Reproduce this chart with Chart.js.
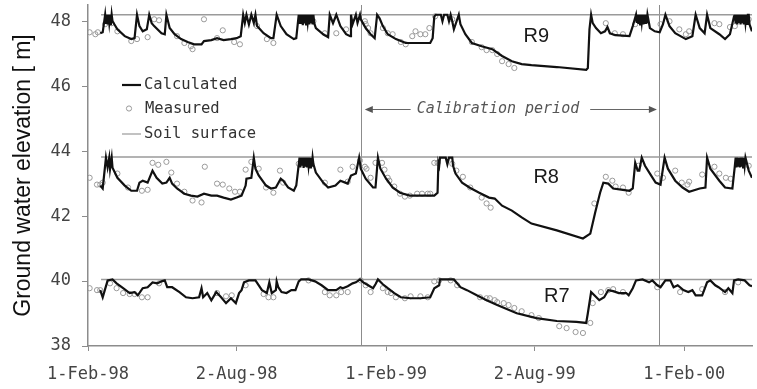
<!DOCTYPE html>
<html lang="en">
<head>
<meta charset="UTF-8">
<title>Ground water elevation R7 R8 R9</title>
<style>
  body { margin: 0; background: #fff; }
  #chart { display: block; }
</style>
</head>
<body>
<canvas id="chart" width="757" height="389"></canvas>
<script src="https://cdn.jsdelivr.net/npm/chart.js"></script>
<script>
// x values are days counted from 1-Feb-98
const tickDays = [0, 182, 365, 547, 730];
const tickLabels = ['1-Feb-98', '2-Aug-98', '1-Feb-99', '2-Aug-99', '1-Feb-00'];
const elevTicks = [38, 40, 42, 44, 46, 48];
const calibration = [334, 699];           // 1-Jan-99 .. 1-Jan-00
const wells = ['R9', 'R8', 'R7'];
const soilSurface = [48.2, 43.82, 40.05];
const soilFrom = 16, lastDay = 813;

// R9
const r9CalcDays = [15,18,21,22,23,24,25,26,27,28,29,30,36,45,
  53,57,60,63,67,72,75,78,81,90,
  94,96,100,106,114,122,130,139,142,151,
  158,166,175,182,187,190,192,194,197,200,
  203,205,207,215,224,227,231,236,243,252,
  255,258,259,260,261,262,263,264,265,266,
  267,268,269,270,271,272,273,274,275,276,
  277,279,288,294,296,300,304,309,316,321,
  322,324,328,330,333,334,340,346,351,354,
  357,361,367,377,389,401,419,422,424,426,
  432,434,436,440,442,444,446,448,454,456,
  462,470,482,495,507,519,531,543,574,610,
  612,614,616,618,622,628,633,636,639,646,
  663,667,671,672,673,674,675,676,677,678,
  679,680,681,682,683,684,685,688,694,700,
  704,707,712,719,732,740,744,749,755,758,
  762,773,780,786,791,792,793,794,795,796,
  797,798,799,800,801,802,803,804,805,806,
  807,808,809,810,813];
const r9CalcVals = [47.63,47.66,48.2,47.92,48.2,47.90,48.2,47.95,48.2,47.88,48.2,48.00,47.75,47.54,
  47.45,47.48,48.2,47.85,47.69,47.75,48.2,47.94,47.85,47.63,
  47.60,48.2,47.79,47.60,47.45,47.36,47.29,47.29,47.39,47.42,
  47.48,47.42,47.45,47.48,47.54,48.2,47.95,48.2,47.90,48.2,
  47.95,48.2,47.85,47.63,47.48,47.48,48.2,47.85,47.60,47.45,
  47.48,48.2,47.92,48.2,47.95,48.2,47.88,48.2,47.93,48.2,
  47.90,48.2,47.96,48.2,47.90,48.2,47.94,48.2,47.90,48.2,
  47.94,47.79,47.60,47.51,48.2,47.94,48.2,47.85,47.60,47.54,
  48.2,47.91,48.2,47.95,48.2,48.06,47.79,47.60,47.48,48.2,
  48.09,47.85,47.60,47.45,47.33,47.33,47.33,47.48,48.15,48.2,
  48.2,48.00,48.2,48.2,48.00,48.2,48.00,47.75,48.2,47.91,
  47.60,47.33,47.23,47.14,46.93,46.77,46.68,46.65,46.59,46.50,
  46.56,47.75,48.2,47.94,47.79,47.63,47.69,47.82,47.63,47.57,
  47.54,47.85,48.2,47.95,48.2,47.92,48.2,47.90,48.2,47.96,
  48.2,47.90,48.2,47.95,48.2,47.93,48.2,47.79,47.69,47.66,
  47.91,48.2,47.85,47.63,47.45,47.54,48.2,47.79,47.63,48.2,
  47.79,47.60,47.45,47.60,48.15,48.2,47.93,48.2,47.90,48.2,
  47.95,48.2,47.90,48.2,47.94,48.2,47.90,48.2,47.95,48.2,
  47.92,48.2,48.2,47.90,47.69];
const r9MeasDays = [2,9,12,21,29,36,53,60,73,81,
  87,109,118,126,128,142,158,165,179,186,
  207,219,227,276,290,304,316,339,340,343,
  346,361,367,373,383,389,397,401,407,413,
  418,425,446,470,482,488,495,501,507,515,
  522,634,645,655,670,701,712,724,732,736,
  767,773,786,792,809];
const r9MeasVals = [47.66,47.60,47.66,47.91,47.94,47.69,47.39,47.45,47.51,48.06,
  48.03,47.54,47.33,47.23,47.14,48.06,47.48,47.72,47.36,47.29,
  47.85,47.45,47.33,48.00,47.63,47.63,47.75,48.00,47.91,47.79,
  47.63,47.79,47.63,47.60,47.36,47.29,47.54,47.69,47.60,47.60,
  47.79,48.15,48.06,47.36,47.20,47.11,47.11,46.99,46.77,46.68,
  46.56,47.94,47.63,47.60,47.91,47.91,48.00,47.75,47.60,47.69,
  47.94,47.91,47.82,47.85,48.06];

// R8
const r8CalcDays = [15,18,22,24,26,27,29,30,36,45,
  53,60,63,67,73,78,79,84,91,96,
  100,103,109,118,126,134,142,151,158,166,
  175,182,188,193,194,200,203,205,209,218,
  224,230,236,239,245,252,255,259,260,261,
  262,263,264,265,266,267,268,269,270,271,
  272,273,274,275,276,279,288,294,303,
  309,315,318,322,328,332,334,340,349,352,
  355,358,365,373,382,394,410,424,428,429,
  430,431,438,440,442,446,447,450,458,467,
  479,491,498,507,519,531,543,574,606,615,
  621,627,631,637,643,655,663,667,670,673,
  675,678,682,688,695,701,706,710,719,728,
  736,749,756,758,762,773,780,789,792,793,
  794,795,796,797,798,799,800,801,802,803,
  804,805,809,813];
const r8CalcVals = [42.94,42.85,43.8,43.50,43.8,43.45,43.8,43.49,43.18,42.94,
  42.78,42.78,43.03,43.09,43.03,43.34,43.40,43.18,43.00,43.03,
  43.18,43.00,42.85,42.69,42.63,42.60,42.69,42.63,42.63,42.57,
  42.51,42.57,42.63,42.94,43.15,43.18,43.8,43.46,43.25,42.94,
  42.85,42.88,43.15,43.09,42.88,42.78,42.94,43.8,43.50,43.8,
  43.55,43.8,43.48,43.8,43.52,43.8,43.50,43.8,43.55,43.8,
  43.50,43.8,43.52,43.8,43.60,43.34,43.03,42.88,42.94,
  43.09,43.03,43.00,43.25,43.31,43.8,43.46,43.15,42.88,42.88,
  43.8,43.46,43.15,42.88,42.72,42.63,42.63,42.63,42.72,43.64,
  43.55,43.8,43.8,43.60,43.8,43.8,43.55,43.31,43.03,42.88,
  42.72,42.57,42.54,42.32,42.17,41.96,41.77,41.56,41.31,41.46,
  42.11,42.72,43.03,43.00,42.85,42.81,42.78,42.85,43.64,43.40,
  43.40,43.8,43.55,43.31,43.03,42.97,43.8,43.46,43.09,42.88,
  42.75,42.85,42.88,43.8,43.46,43.09,42.88,42.85,43.55,43.8,
  43.50,43.8,43.55,43.8,43.50,43.8,43.52,43.8,43.50,43.8,
  43.55,43.8,43.40,43.18];
const r8MeasDays = [2,11,15,18,36,49,66,73,79,86,
  96,102,109,118,128,139,143,158,165,173,
  180,186,193,200,209,218,227,235,239,258,
  290,309,318,324,333,339,341,346,352,360,
  363,367,369,375,382,388,394,403,409,416,
  419,424,428,446,451,459,468,482,488,493,
  620,634,642,646,655,662,674,697,704,719,
  727,734,736,752,767,773,781,787,809];
const r8MeasVals = [43.18,42.97,42.97,43.03,43.31,42.88,42.78,42.81,43.64,43.58,
  43.67,43.34,43.00,42.75,42.48,42.42,43.52,43.00,42.97,42.85,
  42.75,42.75,43.43,43.67,43.46,42.88,42.72,43.40,43.03,43.61,
  43.03,43.43,43.06,43.52,43.71,43.52,43.46,43.18,43.64,43.64,
  43.43,43.18,43.09,42.91,42.69,42.60,42.63,42.69,42.69,42.69,
  42.69,43.64,43.64,43.61,43.40,43.21,42.88,42.57,42.39,42.26,
  42.39,43.21,43.09,42.91,42.88,42.72,43.55,43.31,43.18,43.40,
  43.03,42.97,43.06,43.28,43.52,43.31,43.18,43.15,43.55];

// R7
const r7CalcDays = [15,18,23,24,30,35,43,51,57,61,
  67,73,79,85,90,94,97,103,112,120,
  128,136,139,141,146,151,157,163,169,175,
  181,185,188,191,197,200,205,213,219,222,
  225,230,231,233,237,243,249,254,258,261,
  270,278,286,294,298,304,309,312,318,324,
  328,333,337,343,349,352,355,361,367,375,
  383,395,407,419,424,430,431,440,448,456,
  464,476,488,501,525,549,574,598,610,612,
  616,620,626,632,637,643,650,659,662,667,
  671,679,687,691,697,701,707,713,717,722,
  729,735,740,744,752,758,762,768,772,780,
  784,789,791,796,804,810,813];
const r7CalcVals = [39.72,39.50,39.93,40.02,40.05,39.93,39.78,39.63,39.66,39.56,
  39.78,39.81,39.96,39.93,39.99,40.02,39.81,39.81,39.66,39.50,
  39.47,39.50,39.78,39.50,39.63,39.41,39.66,39.50,39.32,39.47,
  39.32,39.63,39.72,39.96,40.02,40.02,40.02,39.72,39.63,39.96,
  39.63,39.72,39.99,39.81,39.66,39.63,39.72,39.72,39.99,40.05,
  40.05,39.99,39.87,39.72,39.72,39.72,39.81,39.78,39.84,39.93,
  39.96,40.05,39.96,39.87,39.78,39.90,40.05,39.90,39.78,39.63,
  39.50,39.47,39.47,39.50,39.78,39.87,40.05,40.05,40.05,39.81,
  39.72,39.56,39.41,39.26,39.01,38.86,38.77,38.74,38.71,39.01,
  39.66,39.56,39.41,39.50,39.72,39.69,39.63,39.63,39.56,39.78,
  40.02,40.05,39.96,40.02,39.87,39.81,40.02,40.02,39.81,39.87,
  39.72,39.66,39.72,39.56,39.56,39.96,40.02,39.87,39.81,39.66,
  39.78,39.63,40.02,40.05,40.02,39.87,39.84];
const r7MeasDays = [2,11,15,27,35,43,51,57,66,73,
  87,158,169,176,193,215,221,227,270,290,
  296,304,310,318,334,340,346,361,367,371,
  377,388,395,407,416,424,430,444,452,480,
  488,492,498,501,509,515,522,531,543,552,
  577,586,597,606,615,618,628,637,643,655,
  697,725,752,780,796];
const r7MeasVals = [39.78,39.72,39.72,39.93,39.78,39.63,39.60,39.60,39.50,39.50,
  39.93,39.63,39.53,39.56,39.87,39.60,39.50,39.50,40.02,39.66,
  39.56,39.56,39.66,39.66,40.02,39.87,39.66,39.78,39.66,39.63,
  39.50,39.47,39.53,39.53,39.50,39.99,40.02,40.02,39.87,39.50,
  39.47,39.47,39.41,39.35,39.32,39.26,39.17,39.07,38.95,38.86,
  38.61,38.55,38.43,38.40,38.71,39.32,39.66,39.72,39.75,39.66,
  39.81,39.66,39.75,39.66,39.96];

const calcDays = [r9CalcDays, r8CalcDays, r7CalcDays];
const calcVals = [r9CalcVals, r8CalcVals, r7CalcVals];
const measDays = [r9MeasDays, r8MeasDays, r7MeasDays];
const measVals = [r9MeasVals, r8MeasVals, r7MeasVals];

const pts = (days, vals) => days.map((d, i) => ({x: d, y: vals[i]}));

const AXIS = '#8c8c8c';
const MONO = 'DejaVu Sans Mono';

const datasets = [];
wells.forEach((w, i) => {
  datasets.push({
    label: w + ' soil surface',
    data: [{x: soilFrom, y: soilSurface[i]}, {x: lastDay, y: soilSurface[i]}],
    showLine: true, borderColor: '#9a9a9a', borderWidth: 1.5,
    pointRadius: 0, order: 3
  });
  datasets.push({
    label: w + ' measured',
    data: pts(measDays[i], measVals[i]),
    showLine: false, pointRadius: 2.6, pointBorderWidth: 1,
    pointBorderColor: '#9a9a9a', pointBackgroundColor: 'rgba(0,0,0,0)', order: 2
  });
  datasets.push({
    label: w + ' calculated',
    data: pts(calcDays[i], calcVals[i]),
    showLine: true, borderColor: '#111', borderWidth: 2.2,
    pointRadius: 0, tension: 0, order: 1
  });
});

function arrowHead(ctx, x, y, dir) {
  ctx.beginPath();
  ctx.moveTo(x, y);
  ctx.lineTo(x - dir * 8, y - 3.5);
  ctx.lineTo(x - dir * 8, y + 3.5);
  ctx.closePath();
  ctx.fill();
}

const overlay = {
  id: 'overlay',
  beforeDatasetsDraw(chart) {
    const {ctx, chartArea: a, scales: {x}} = chart;
    ctx.save();
    ctx.strokeStyle = AXIS;
    ctx.lineWidth = 1;
    calibration.forEach(d => {
      const px = Math.round(x.getPixelForValue(d)) + 0.5;
      ctx.beginPath();
      ctx.moveTo(px, a.top);
      ctx.lineTo(px, a.bottom);
      ctx.stroke();
    });
    ctx.restore();
  },
  afterDatasetsDraw(chart) {
    const {ctx, scales: {x, y}} = chart;
    ctx.save();

    // well names
    ctx.fillStyle = '#1a1a1a';
    ctx.font = '20px "Liberation Sans", Arial, sans-serif';
    ctx.textAlign = 'center';
    ctx.textBaseline = 'middle';
    const nameAt = [[549, 47.54], [561, 43.18], [574, 39.53]];
    wells.forEach((w, i) => {
      ctx.fillText(w, x.getPixelForValue(nameAt[i][0]), y.getPixelForValue(nameAt[i][1]));
    });

    // calibration period arrows
    const x0 = x.getPixelForValue(calibration[0]);
    const x1 = x.getPixelForValue(calibration[1]);
    const ay = Math.round(y.getPixelForValue(45.3)) + 0.5;
    const label = 'Calibration period';
    ctx.font = 'italic 15px "' + MONO + '", monospace';
    const tw = ctx.measureText(label).width;
    const tc = x0 + (x1 - x0) * 0.46;
    ctx.fillStyle = '#555';
    ctx.fillText(label, tc, ay);
    ctx.strokeStyle = '#666';
    ctx.lineWidth = 1;
    ctx.beginPath();
    ctx.moveTo(x0 + 6, ay); ctx.lineTo(tc - tw / 2 - 6, ay);
    ctx.moveTo(tc + tw / 2 + 11, ay); ctx.lineTo(x1 - 6, ay);
    ctx.stroke();
    ctx.fillStyle = '#555';
    arrowHead(ctx, x0 + 4, ay, -1);
    arrowHead(ctx, x1 - 2, ay, 1);

    // legend
    const lx = 122, tx = 144;
    ctx.font = '15.5px "' + MONO + '", monospace';
    ctx.textAlign = 'left';
    ctx.fillStyle = '#333';
    ctx.strokeStyle = '#111';
    ctx.lineWidth = 2.2;
    ctx.beginPath(); ctx.moveTo(lx, 85); ctx.lineTo(lx + 19, 85); ctx.stroke();
    ctx.fillText('Calculated', tx, 85);
    ctx.strokeStyle = '#9a9a9a';
    ctx.lineWidth = 1;
    ctx.beginPath(); ctx.arc(lx + 7, 108.5, 2.6, 0, Math.PI * 2); ctx.stroke();
    ctx.fillText('Measured', tx + 1, 109);
    ctx.lineWidth = 1.2;
    ctx.beginPath(); ctx.moveTo(lx, 134); ctx.lineTo(lx + 19, 134); ctx.stroke();
    ctx.fillText('Soil surface', tx, 134);
    ctx.restore();
  }
};

new Chart(document.getElementById('chart'), {
  type: 'scatter',
  data: {datasets},
  plugins: [overlay],
  options: {
    responsive: false,
    animation: false,
    layout: {padding: {top: 4, right: 0, left: 0, bottom: 0}},
    plugins: {legend: {display: false}, tooltip: {enabled: false}},
    scales: {
      x: {
        type: 'linear', min: 0, max: lastDay,
        afterBuildTicks: s => { s.ticks = tickDays.map(v => ({value: v})); },
        afterFit: s => { s.height = 43; },
        border: {color: AXIS, width: 1.5},
        grid: {drawOnChartArea: false, color: AXIS, lineWidth: 1, tickLength: 5},
        ticks: {
          callback: (v, i) => tickLabels[i],
          autoSkip: false, maxRotation: 0, padding: 13,
          color: '#444', font: {family: MONO, size: 17}
        }
      },
      y: {
        min: 38, max: 48.5,
        afterBuildTicks: s => { s.ticks = elevTicks.map(v => ({value: v})); },
        afterFit: s => { s.width = 88; s.paddingTop = 0; s.paddingBottom = 0; },
        border: {color: AXIS, width: 1.5},
        grid: {drawOnChartArea: false, color: AXIS, lineWidth: 1, tickLength: 6},
        ticks: {padding: 11, color: '#444', font: {family: MONO, size: 17}},
        title: {
          display: true, text: 'Ground water elevation [ m]',
          color: '#111', padding: {top: 10, bottom: 0},
          font: {family: 'Liberation Sans', size: 23}
        }
      }
    }
  }
});
</script>
</body>
</html>
